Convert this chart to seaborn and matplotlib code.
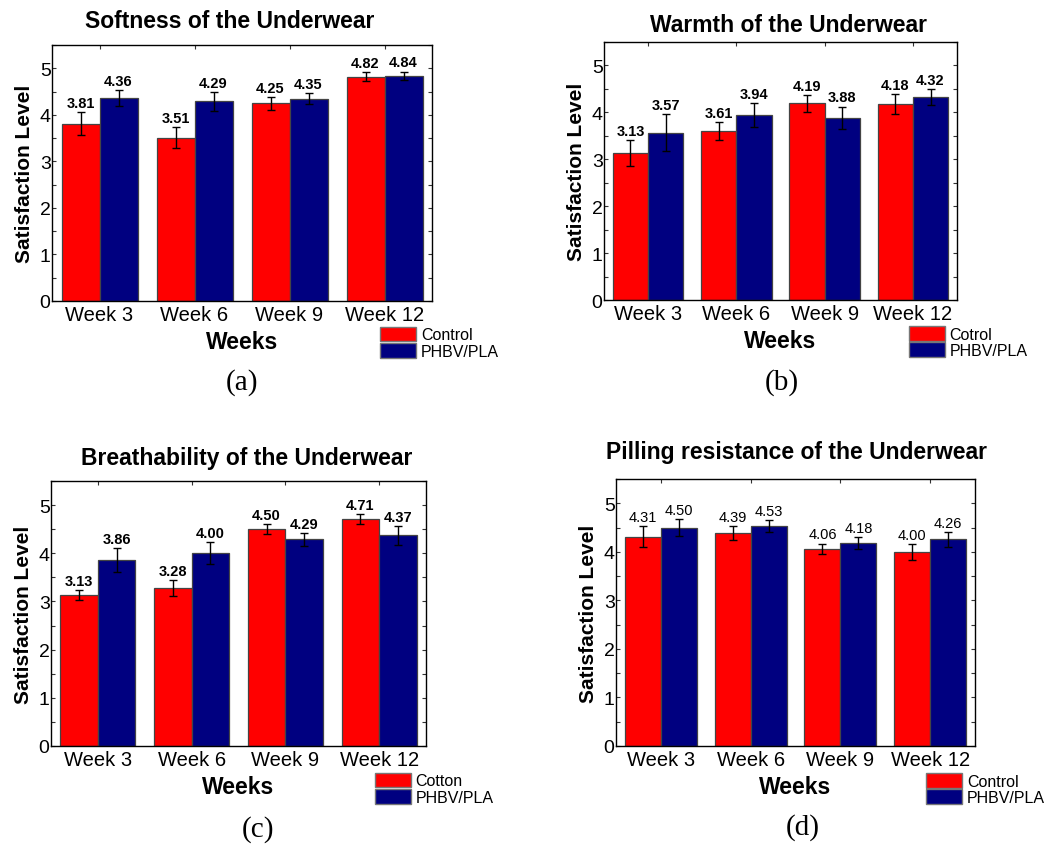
import numpy as np
import pandas as pd
import matplotlib
matplotlib.use("Agg")
import matplotlib.pyplot as plt
from matplotlib.patches import Patch
from matplotlib.ticker import MultipleLocator
import seaborn as sns

weeks = ["Week 3", "Week 6", "Week 9", "Week 12"]
groups = ["Control", "PHBV/PLA"]

titles = ["Softness of the Underwear", "Warmth of the Underwear",
          "Breathability of the Underwear", "Pilling resistance of the Underwear"]
panel_labels = ["(a)", "(b)", "(c)", "(d)"]
legend_names = [["Control", "PHBV/PLA"], ["Cotrol", "PHBV/PLA"],
                ["Cotton", "PHBV/PLA"], ["Control", "PHBV/PLA"]]

soft_ctrl = [3.81, 3.51, 4.25, 4.82]
soft_phbv = [4.36, 4.29, 4.35, 4.84]
soft_ctrl_err = [0.245, 0.23, 0.14, 0.09]
soft_phbv_err = [0.18, 0.20, 0.12, 0.09]

warm_ctrl = [3.13, 3.61, 4.19, 4.18]
warm_phbv = [3.57, 3.94, 3.88, 4.32]
warm_ctrl_err = [0.28, 0.19, 0.18, 0.21]
warm_phbv_err = [0.39, 0.26, 0.245, 0.17]

breath_ctrl = [3.13, 3.28, 4.50, 4.71]
breath_phbv = [3.86, 4.00, 4.29, 4.37]
breath_ctrl_err = [0.11, 0.17, 0.11, 0.10]
breath_phbv_err = [0.25, 0.23, 0.13, 0.19]

pill_ctrl = [4.31, 4.39, 4.06, 4.00]
pill_phbv = [4.50, 4.53, 4.18, 4.26]
pill_ctrl_err = [0.22, 0.14, 0.11, 0.16]
pill_phbv_err = [0.17, 0.12, 0.13, 0.155]

panels = [
    (soft_ctrl, soft_phbv, soft_ctrl_err, soft_phbv_err),
    (warm_ctrl, warm_phbv, warm_ctrl_err, warm_phbv_err),
    (breath_ctrl, breath_phbv, breath_ctrl_err, breath_phbv_err),
    (pill_ctrl, pill_phbv, pill_ctrl_err, pill_phbv_err),
]

colors = ["#FF0000", "#000080"]

sns.set_style("ticks")
plt.rcParams['font.family'] = ['Liberation Sans', 'DejaVu Sans']
plt.rcParams['text.color'] = 'black'
plt.rcParams['axes.labelcolor'] = 'black'
plt.rcParams['xtick.color'] = 'black'
plt.rcParams['ytick.color'] = 'black'

W, H = 1045, 845
fig = plt.figure(figsize=(W / 100, H / 100), dpi=100)

# axes boxes in pixels: left, right, top, bottom
boxes = [(52, 432, 46, 302), (604, 957, 43, 301), (51, 426, 482, 747), (616, 975, 480, 747)]
title_pos = [(230, 22), (789, 25), (247, 459), (797, 453)]
plabel_pos = [(242, 383), (782, 383), (258, 830), (803, 828)]
bold_vals = [True, True, True, False]

for i, (ctrl, phbv, ce, pe) in enumerate(panels):
    l, r, t, b = boxes[i]
    ax = fig.add_axes([l / W, 1 - b / H, (r - l) / W, (b - t) / H])
    df = pd.DataFrame({
        "Week": weeks * 2,
        "Group": [groups[0]] * 4 + [groups[1]] * 4,
        "Value": list(ctrl) + list(phbv),
    })
    sns.barplot(data=df, x="Week", y="Value", hue="Group", order=weeks,
                hue_order=groups, palette=colors, errorbar=None, width=0.8,
                edgecolor="#444444", linewidth=0.9, saturation=1, ax=ax, legend=False)
    bars = [p for p in ax.patches if p.get_height() > 0]
    bars = sorted(bars, key=lambda p: p.get_x())
    errs = []
    for k in range(4):
        errs += [ce[k], pe[k]]
    xs = [p.get_x() + p.get_width() / 2 for p in bars]
    hs = [p.get_height() for p in bars]
    ax.errorbar(xs, hs, yerr=errs, fmt="none", ecolor="black", elinewidth=1.0,
                capsize=3, capthick=1.0, zorder=5)
    for x, h, e in zip(xs, hs, errs):
        ax.annotate(f"{h:.2f}", (x, h + e), xytext=(0, 1.5), textcoords="offset points",
                    ha="center", va="bottom", fontsize=10.5, color="black",
                    fontweight="bold" if bold_vals[i] else "normal")
    ax.set_ylim(0, 5.5)
    ax.set_xlim(-0.5, 3.5)
    ax.yaxis.set_major_locator(MultipleLocator(1))
    ax.yaxis.set_minor_locator(MultipleLocator(0.5))
    ax.tick_params(axis="both", which="both", direction="in", top=True, right=True,
                   length=3, width=0.8, color="#333333", labelcolor="black")
    ax.tick_params(axis="y", which="major", labelsize=14, pad=1)
    ax.tick_params(axis="x", which="major", labelsize=14.5, pad=3)
    for s in ax.spines.values():
        s.set_color("black")
        s.set_linewidth(1.0)
    ax.set_xlabel("Weeks", fontsize=16.5, fontweight="bold", labelpad=4, color="black")
    ax.set_ylabel("Satisfaction Level", fontsize=15, fontweight="bold", labelpad=4,
                  color="black")
    handles = [Patch(facecolor=colors[0], edgecolor="#777777", linewidth=1.0),
               Patch(facecolor=colors[1], edgecolor="#777777", linewidth=1.0)]
    leg = ax.legend(handles, legend_names[i], loc="upper left", bbox_to_anchor=(0.864, -0.10),
                    frameon=False, fontsize=11.5, borderpad=0, borderaxespad=0,
                    handlelength=2.25, handleheight=1.05, labelspacing=0.05, handletextpad=0.3)
    for txt in leg.get_texts():
        txt.set_color("black")
    tx, ty = title_pos[i]
    fig.text(tx / W, 1 - ty / H, titles[i], ha="center", va="center",
             fontsize=16.5, fontweight="bold", color="black")
    px, py = plabel_pos[i]
    fig.text(px / W, 1 - py / H, panel_labels[i], ha="center", va="center",
             fontsize=21, color="black", family=["Liberation Serif", "DejaVu Serif"])

fig.savefig("out.png", dpi=100)
